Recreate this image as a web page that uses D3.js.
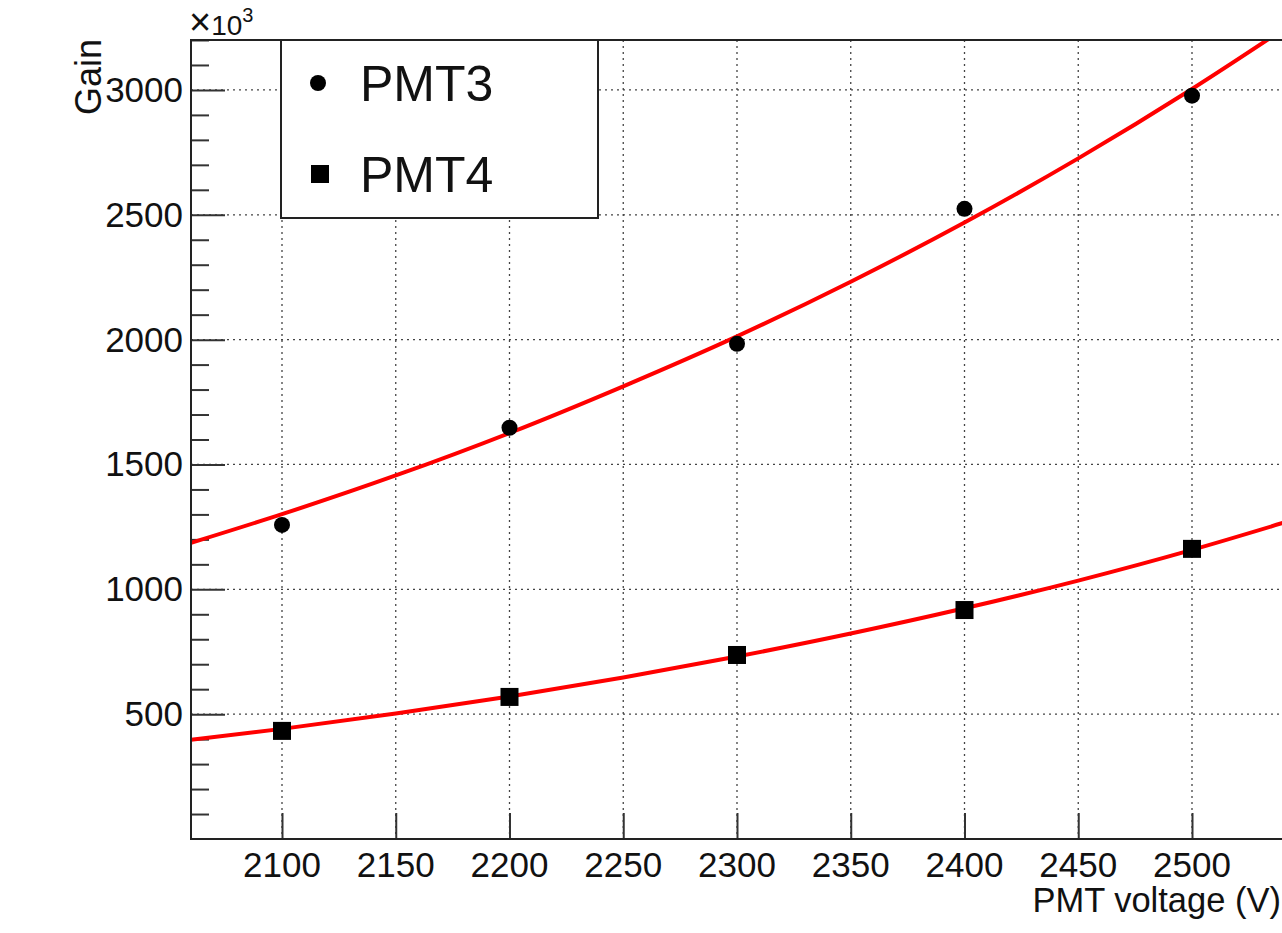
<!DOCTYPE html>
<html><head><meta charset="utf-8">
<script src="https://cdn.jsdelivr.net/npm/d3@7"></script>
<style>
html,body{margin:0;padding:0;background:#fff;}
svg{display:block;font-family:"Liberation Sans",Arial,Helvetica,sans-serif;}
</style></head>
<body>
<svg id="chart" width="1282" height="933"></svg>
<script>
// ---- data ----
const voltages = [2100, 2200, 2300, 2400, 2500];
const pmt3Gain = [1258, 1647, 1983, 2524, 2977];   // x10^3
const pmt4Gain = [433, 569, 737, 917, 1162];       // x10^3
const fitVoltages = [2060, 2100, 2150, 2200, 2250, 2300, 2350, 2400, 2450, 2500, 2540];
const pmt3Fit = [1186, 1301, 1456, 1626, 1813, 2013, 2232, 2469, 2726, 3004, 3242];
const pmt4Fit = [397, 441, 503, 571, 647, 731, 823, 924, 1035, 1158, 1266];
const xTicks = [2100, 2150, 2200, 2250, 2300, 2350, 2400, 2450, 2500];
const yMajorTicks = [500, 1000, 1500, 2000, 2500, 3000];
const yMinorTicks = d3.range(100, 3201, 100).filter(v => v % 500 !== 0);
const legendLabels = ["PMT3", "PMT4"];
const xTitle = "PMT voltage (V)";
const yTitle = "Gain";

// ---- layout ----
const svg = d3.select("#chart");
const L = 191, R = 1283, T = 40, B = 839;
const x = d3.scaleLinear().domain([2060, 2540]).range([L, R]);
const y = d3.scaleLinear().domain([0, 3200]).range([B, T]);

svg.append("defs").append("clipPath").attr("id", "plotclip")
  .append("rect").attr("x", L).attr("y", T).attr("width", R - L).attr("height", B - T);

// grid
const grid = svg.append("g").attr("stroke", "#444").attr("stroke-width", 1.3).attr("stroke-dasharray", "2,4");
grid.selectAll("line.v").data(xTicks).join("line").attr("class", "v")
  .attr("x1", d => x(d)).attr("x2", d => x(d)).attr("y1", T).attr("y2", B);
grid.selectAll("line.h").data(yMajorTicks).join("line").attr("class", "h")
  .attr("y1", d => y(d)).attr("y2", d => y(d)).attr("x1", L).attr("x2", R);

// axes ticks (inside)
const xAxis = d3.axisTop(x).tickValues(xTicks).tickSize(26).tickFormat("");
const gx = svg.append("g").attr("transform", `translate(0,${B})`).call(xAxis);
gx.select(".domain").remove();
gx.selectAll("line").attr("stroke", "#333").attr("stroke-width", 2);

const yAxisMaj = d3.axisRight(y).tickValues(yMajorTicks).tickSize(34).tickFormat("");
const gy = svg.append("g").attr("transform", `translate(${L},0)`).call(yAxisMaj);
gy.select(".domain").remove();
gy.selectAll("line").attr("stroke", "#333").attr("stroke-width", 2);
const yAxisMin = d3.axisRight(y).tickValues(yMinorTicks).tickSize(18).tickFormat("");
const gym = svg.append("g").attr("transform", `translate(${L},0)`).call(yAxisMin);
gym.select(".domain").remove();
gym.selectAll("line").attr("stroke", "#333").attr("stroke-width", 2);

// tick labels
svg.append("g").selectAll("text").data(xTicks).join("text")
  .attr("x", d => x(d)).attr("y", 877).attr("text-anchor", "middle")
  .attr("font-size", 35).attr("fill", "#111").text(d => d);
svg.append("g").selectAll("text").data(yMajorTicks).join("text")
  .attr("x", 183).attr("y", d => y(d) + 12).attr("text-anchor", "end")
  .attr("font-size", 35).attr("fill", "#111").text(d => d);

// titles
svg.append("text").attr("x", 1281).attr("y", 912).attr("text-anchor", "end")
  .attr("font-size", 34.5).attr("fill", "#111").text(xTitle);
svg.append("text").attr("transform", "translate(101,39) rotate(-90)").attr("text-anchor", "end")
  .attr("font-size", 36).attr("fill", "#111").text(yTitle);
const mult = svg.append("text").attr("x", 189).attr("y", 35).attr("fill", "#111");
mult.append("tspan").attr("font-size", 38).text("\u00d7");
mult.append("tspan").attr("font-size", 28).text("10");
mult.append("tspan").attr("font-size", 20).attr("dy", -13).text("3");

// fit curves
const line = d3.line().x(d => x(d[0])).y(d => y(d[1])).curve(d3.curveMonotoneX);
const fits = svg.append("g").attr("clip-path", "url(#plotclip)");
[pmt3Fit, pmt4Fit].forEach(f => {
  fits.append("path").datum(fitVoltages.map((v, i) => [v, f[i]]))
    .attr("d", line).attr("fill", "none").attr("stroke", "#ff0000").attr("stroke-width", 4);
});

// markers
svg.append("g").selectAll("circle").data(voltages.map((v, i) => [v, pmt3Gain[i]])).join("circle")
  .attr("cx", d => x(d[0])).attr("cy", d => y(d[1])).attr("r", 8).attr("fill", "#000");
const sq = 18;
svg.append("g").selectAll("rect").data(voltages.map((v, i) => [v, pmt4Gain[i]])).join("rect")
  .attr("x", d => x(d[0]) - sq / 2).attr("y", d => y(d[1]) - sq / 2)
  .attr("width", sq).attr("height", sq).attr("fill", "#000");

// legend
const lg = svg.append("g");
lg.append("rect").attr("x", 281).attr("y", 40).attr("width", 317).attr("height", 178)
  .attr("fill", "#fff").attr("stroke", "#222").attr("stroke-width", 2);
lg.append("circle").attr("cx", 318).attr("cy", 83).attr("r", 8).attr("fill", "#000");
lg.append("rect").attr("x", 311).attr("y", 165).attr("width", sq).attr("height", sq).attr("fill", "#000");
lg.selectAll("text").data(legendLabels).join("text")
  .attr("x", 360).attr("y", (d, i) => 101 + i * 91).attr("font-size", 50).attr("fill", "#111")
  .text(d => d);

// frame
svg.append("path").attr("d", `M${R},${T}H${L}V${B}H${R}`)
  .attr("fill", "none").attr("stroke", "#222").attr("stroke-width", 2);
</script>
</body></html>
